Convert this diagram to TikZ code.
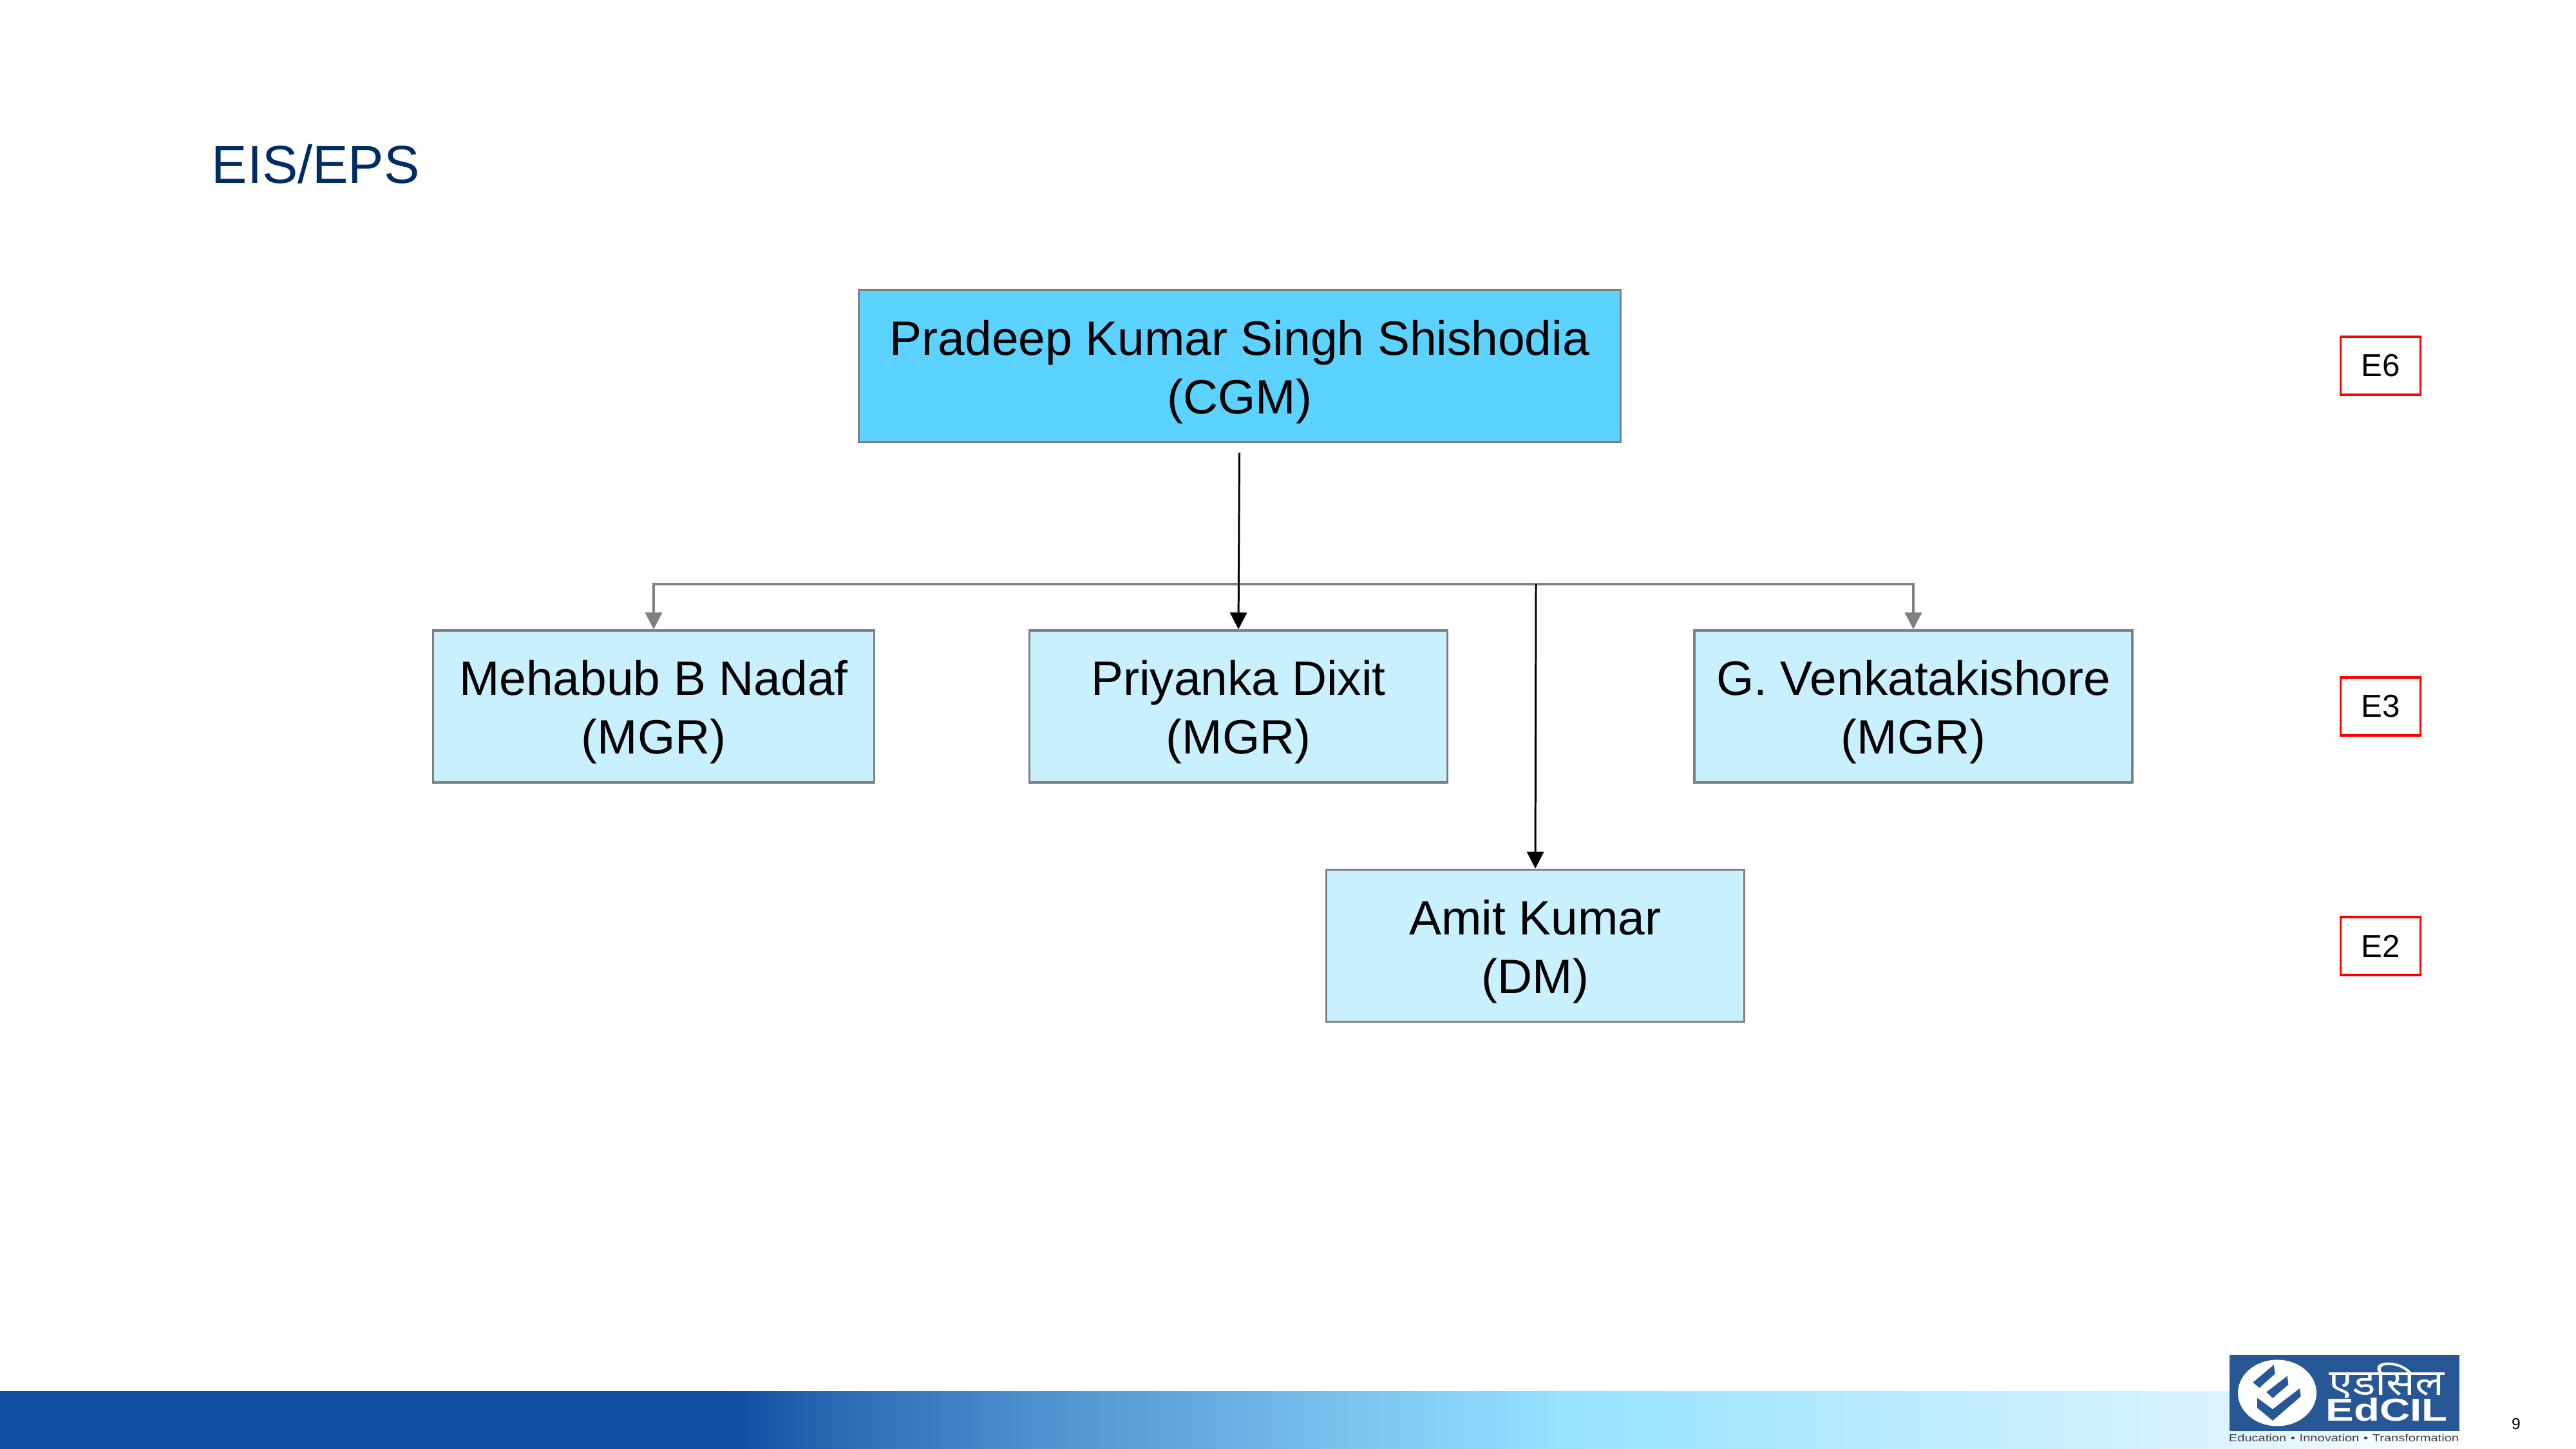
\documentclass[tikz,border=0pt]{standalone}
\usepackage{fontspec}
\setmainfont{Liberation Sans}
\newfontfamily\devafont[Script=Devanagari]{Noto Sans}
\usetikzlibrary{arrows.meta}
\definecolor{titleblue}{HTML}{002B64}
\definecolor{topfill}{HTML}{5BD2FF}
\definecolor{boxfill}{HTML}{C9F0FF}
\definecolor{boxline}{HTML}{808080}
\definecolor{logoblue}{HTML}{275795}
\definecolor{banda}{HTML}{114DA0}
\definecolor{bandb}{HTML}{2C6AB3}
\definecolor{bandc}{HTML}{4A8ACA}
\definecolor{bandd}{HTML}{7CC6F0}
\definecolor{bande}{HTML}{96E2FF}
\definecolor{bandf}{HTML}{DCF4FE}
\pgfdeclarehorizontalshading{bandshade}{100bp}{color(0bp)=(banda); color(39.2bp)=(banda); color(41.25bp)=(bandb); color(44.5bp)=(bandc); color(51.5bp)=(bandd); color(55.4bp)=(bande); color(68.3bp)=(bandf); color(72.5bp)=(white); color(100bp)=(white)}
\newcommand{\rankstrut}{\rule{0pt}{20.6pt}}
\tikzset{
	person/.style={draw=boxline, line width=1pt, fill=boxfill, align=center, inner sep=0pt, minimum height=2.36cm, font=\fontsize{21.3}{25.9}\selectfont},
	grade/.style={draw=red, line width=1pt, fill=white, inner sep=0pt, minimum width=1.24cm, minimum height=0.9cm, font=\fontsize{14}{17}\selectfont},
	greyline/.style={draw=boxline, line width=1pt, -{Triangle[length=2.6mm,width=2.6mm]}},
	blackline/.style={draw=black, line width=0.85pt, -{Triangle[length=2.6mm,width=2.6mm]}},
}
\begin{document}
\begin{tikzpicture}
	\useasboundingbox (0, 0) rectangle (40, 22.5);
	\shade[shading=bandshade] (0, 0) rectangle (40, 0.89);
	\node[anchor=base west, inner sep=0pt, text=titleblue, font=\fontsize{23.6}{29}\selectfont] (title) at (3.28, 19.65) {EIS/EPS};
	\node[person, fill=topfill, minimum width=11.83cm] (cgm) at (19.25, 16.815) {\rankstrut Pradeep Kumar Singh Shishodia\\(CGM)};
	\node[person, minimum width=6.85cm] (nadaf) at (10.15, 11.53) {\rankstrut Mehabub B Nadaf\\(MGR)};
	\node[person, minimum width=6.49cm] (priyanka) at (19.23, 11.53) {\rankstrut Priyanka Dixit\\(MGR)};
	\node[person, minimum width=6.8cm] (venkata) at (29.71, 11.53) {\rankstrut G. Venkatakishore\\(MGR)};
	\node[person, minimum width=6.49cm] (amit) at (23.84, 7.815) {\rankstrut Amit Kumar\\(DM)};
	\node[grade] (e6) at (36.965, 16.82) {E6};
	\node[grade] (e3) at (36.965, 11.53) {E3};
	\node[grade] (e2) at (36.965, 7.81) {E2};
	\coordinate (stub) at (19.245, 15.47);
	\coordinate (bus) at (23.85, 13.43);
	\draw[greyline] (bus) -| (nadaf.north);
	\draw[greyline] (bus) -| (venkata.north);
	\draw[blackline] (stub) -- (priyanka.north);
	\draw[blackline] (bus) -- (amit.north);
	% logo
	\fill[logoblue] (34.62, 0.28) rectangle (38.19, 1.46);
	\fill[white] (35.36, 0.87) ellipse (0.61 and 0.515);
	\fill[logoblue] (35.307, 1.307) -- (35.327, 1.167) -- (35.083, 0.95) -- (34.983, 1.033) -- cycle;
	\fill[logoblue] (35.517, 1.133) -- (35.533, 1.0) -- (35.29, 0.79) -- (35.193, 0.883) -- cycle;
	\fill[logoblue] (35.707, 0.94) -- (35.727, 0.817) -- (35.29, 0.44) -- (35.05, 0.64) -- (35.05, 0.793) -- (35.29, 0.617) -- cycle;
	\node[anchor=base, text=white, inner sep=0pt, xscale=1.18, font=\devafont\fontsize{16}{19}\selectfont] (logohindi) at (37.06, 0.83) {एडसिल};
	\node[anchor=base, text=white, inner sep=0pt, xscale=1.33, font=\bfseries\fontsize{14}{17}\selectfont] (logoname) at (37.06, 0.43) {EdCIL};
	\node[text=black!75, inner sep=0pt, xscale=1.27, font=\fontsize{4.5}{5}\selectfont] (logotag) at (36.395, 0.175) {Education\,\,•\,\,Innovation\,\,•\,\,Transformation};
	\node[inner sep=0pt, font=\fontsize{7}{8}\selectfont] (pageno) at (39.07, 0.39) {9};
\end{tikzpicture}
\end{document}
